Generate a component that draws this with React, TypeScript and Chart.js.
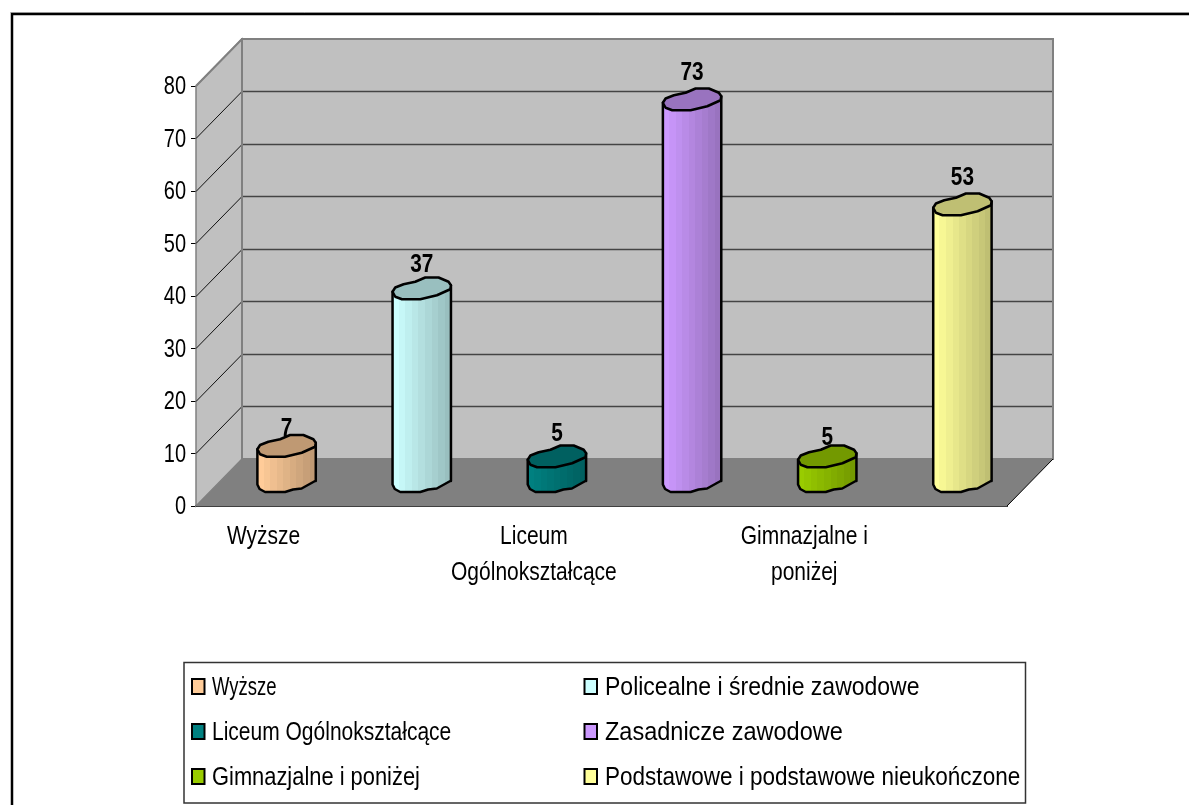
import React, { useEffect, useRef } from "react";
import { Chart, registerables } from "chart.js";

Chart.register(...registerables);

const categories = [
  "Wyższe",
  "Policealne i średnie zawodowe",
  "Liceum Ogólnokształcące",
  "Zasadnicze zawodowe",
  "Gimnazjalne i poniżej",
  "Podstawowe i podstawowe nieukończone",
];
const values = [7, 37, 5, 73, 5, 53];
const xTickLines: (string | string[])[] = [
  "Wyższe",
  "",
  ["Liceum", "Ogólnokształcące"],
  "",
  ["Gimnazjalne i", "poniżej"],
  "",
];
const bodyLight = ["#FFCC99", "#CCFFFF", "#008080", "#CC99FF", "#99CC00", "#FFFF99"];
const bodyDark = ["#BF9973", "#99BFBF", "#006060", "#9973BF", "#739900", "#BFBF73"];
const labelLift = [10, 16, 15, 19, 11, 19];
const legendSqueeze = [0.74, 0.92, 0.84, 0.94, 0.875, 0.9];

const FONT = '"Liberation Sans", Arial, sans-serif';
const DX = 46;
const DY = 47;

const capOutline: [number, number][] = [
  [-29.2, 3.5], [-26.5, -0.75], [-18.2, -4], [-6.5, -6.5], [3.5, -10.75], [16.8, -10.75],
  [26.8, -6.5], [29.2, -3], [28.5, 1], [15.2, 7], [-1.5, 11], [-19.8, 11], [-26.5, 8.5],
];
const baseArc: [number, number][] = [
  [29.2, -1], [28.5, -1], [15, 6.5], [6.5, 7.5], [-1.5, 10], [-21.5, 10], [-27, 7], [-29.2, 2.5],
];

function squeezed(ctx: any, text: string, x: number, y: number, sx: number, align: string) {
  ctx.save();
  ctx.translate(x, y);
  ctx.scale(sx, 1);
  ctx.textAlign = align;
  ctx.textBaseline = "alphabetic";
  ctx.fillText(text, 0, 0);
  ctx.restore();
}

const scene = {
  id: "scene",
  beforeDatasetsDraw(chart: any) {
    const { ctx, chartArea: a, scales } = chart;
    const y = scales.y;
    ctx.save();
    // frame
    ctx.strokeStyle = "#c8c8c8";
    ctx.lineWidth = 1;
    ctx.beginPath();
    ctx.moveTo(10, 12.5);
    ctx.lineTo(1189, 12.5);
    ctx.stroke();
    ctx.strokeStyle = "#000";
    ctx.lineWidth = 2.5;
    ctx.beginPath();
    ctx.moveTo(1189, 14);
    ctx.lineTo(12, 14);
    ctx.lineTo(12, 805);
    ctx.stroke();
    // side wall
    ctx.fillStyle = "#C0C0C0";
    ctx.beginPath();
    ctx.moveTo(a.left, a.top);
    ctx.lineTo(a.left + DX, a.top - DY);
    ctx.lineTo(a.left + DX, a.bottom - DY);
    ctx.lineTo(a.left, a.bottom);
    ctx.closePath();
    ctx.fill();
    ctx.strokeStyle = "#808080";
    ctx.lineWidth = 1.5;
    ctx.stroke();
    // back wall
    ctx.fillRect(a.left + DX, a.top - DY, a.right - a.left, a.bottom - a.top);
    // floor
    ctx.fillStyle = "#808080";
    ctx.beginPath();
    ctx.moveTo(a.left, a.bottom);
    ctx.lineTo(a.left + DX, a.bottom - DY);
    ctx.lineTo(a.right + DX, a.bottom - DY);
    ctx.lineTo(a.right, a.bottom);
    ctx.closePath();
    ctx.fill();
    // grid
    for (let v = 10; v < 80; v += 10) {
      const py = Math.floor(y.getPixelForValue(v)) + 0.5;
      ctx.strokeStyle = "#111";
      ctx.lineWidth = 1;
      ctx.beginPath();
      ctx.moveTo(a.left, py);
      ctx.lineTo(a.left + DX, py - DY);
      ctx.stroke();
      ctx.strokeStyle = "#444";
      ctx.lineWidth = 1.5;
      ctx.beginPath();
      ctx.moveTo(a.left + DX, py - DY);
      ctx.lineTo(a.right + DX, py - DY);
      ctx.stroke();
    }
    // wall edges
    ctx.strokeStyle = "#808080";
    ctx.lineWidth = 2;
    ctx.strokeRect(a.left + DX, a.top - DY, a.right - a.left, a.bottom - a.top);
    ctx.beginPath();
    ctx.moveTo(a.left, a.top);
    ctx.lineTo(a.left + DX, a.top - DY);
    ctx.stroke();
    ctx.strokeStyle = "#000";
    ctx.lineWidth = 1;
    ctx.beginPath();
    ctx.moveTo(a.right, a.bottom);
    ctx.lineTo(a.right + DX, a.bottom - DY);
    ctx.stroke();
    ctx.restore();
  },
  afterDatasetsDraw(chart: any) {
    const { ctx } = chart;
    const meta = chart.getDatasetMeta(0);
    meta.data.forEach((el: any, i: number) => {
      const cx = el.x + DX / 2;
      const top = el.y - DY / 2;
      const base = el.base - DY / 2;
      const hw = el.width / 2;
      ctx.save();
      ctx.lineJoin = "round";
      const g = ctx.createLinearGradient(cx - hw, 0, cx + hw, 0);
      const bands = 9;
      const mix = (a: string, b: string, t: number) => {
        const p = (s: string, k: number) => parseInt(s.slice(k, k + 2), 16);
        const c = [1, 3, 5].map((k) => Math.round(p(a, k) + (p(b, k) - p(a, k)) * t));
        return `rgb(${c[0]},${c[1]},${c[2]})`;
      };
      for (let b = 0; b < bands; b++) {
        const col = mix(bodyLight[i], bodyDark[i], b / (bands - 1));
        g.addColorStop(b / bands, col);
        g.addColorStop((b + 1) / bands, col);
      }
      ctx.fillStyle = g;
      ctx.strokeStyle = "#000";
      ctx.lineWidth = 2.5;
      ctx.beginPath();
      ctx.moveTo(cx - 29.2, top + 3.5);
      ctx.lineTo(cx + 29.2, top - 3);
      baseArc.forEach(([px, py]) => ctx.lineTo(cx + px, base + py));
      ctx.closePath();
      ctx.fill();
      ctx.stroke();
      ctx.fillStyle = bodyDark[i];
      ctx.beginPath();
      capOutline.forEach(([px, py], k) => {
        if (k === 0) ctx.moveTo(cx + px, top + py);
        else ctx.lineTo(cx + px, top + py);
      });
      ctx.closePath();
      ctx.fill();
      ctx.stroke();
      ctx.fillStyle = "#000";
      ctx.font = `bold 26px ${FONT}`;
      squeezed(ctx, String(values[i]), cx, top - labelLift[i], 0.8, "center");
      ctx.restore();
    });
  },
  afterDraw(chart: any) {
    const { ctx, scales } = chart;
    ctx.save();
    ctx.fillStyle = "#000";
    ctx.font = `25px ${FONT}`;
    // y axis labels, from the scale's own ticks
    scales.y.ticks.forEach((t: any) => {
      squeezed(ctx, String(t.label), 186, scales.y.getPixelForValue(t.value) + 8, 0.8, "right");
    });
    // x axis labels, from the scale's own ticks
    scales.x.ticks.forEach((t: any, i: number) => {
      const lines = Array.isArray(t.label) ? t.label : [t.label];
      lines.forEach((ln: string, k: number) => {
        if (ln) squeezed(ctx, ln, scales.x.getPixelForTick(i), 544 + k * 36, 0.84, "center");
      });
    });
    // legend
    ctx.fillStyle = "#fff";
    ctx.fillRect(184, 662.5, 841.5, 140.5);
    ctx.strokeStyle = "#333";
    ctx.lineWidth = 1.5;
    ctx.strokeRect(184, 662.5, 841.5, 140.5);
    categories.forEach((c, i) => {
      const col = i % 2;
      const row = Math.floor(i / 2);
      const sx = col ? 584.5 : 192;
      const base = 695 + row * 45;
      ctx.fillStyle = bodyLight[i];
      ctx.fillRect(sx, base - 16, 12.5, 15);
      ctx.strokeStyle = "#000";
      ctx.lineWidth = 2;
      ctx.strokeRect(sx, base - 16, 12.5, 15);
      ctx.fillStyle = "#000";
      squeezed(ctx, c, col ? 605 : 212, base, legendSqueeze[i], "left");
    });
    ctx.restore();
  },
};

export default function App() {
  const ref = useRef<HTMLCanvasElement>(null);
  useEffect(() => {
    document.body.style.margin = "0";
    const chart = new Chart(ref.current!, {
      type: "bar",
      data: {
        labels: categories,
        datasets: [
          {
            data: values,
            backgroundColor: "rgba(0,0,0,0)",
            barPercentage: 0.436,
            categoryPercentage: 1,
          },
        ],
      },
      options: {
        responsive: false,
        animation: false,
        layout: { padding: { top: 86, right: 182, left: 0, bottom: 0 } },
        plugins: { legend: { display: false }, tooltip: { enabled: false } },
        scales: {
          x: {
            grid: { display: false },
            border: { display: true, color: "#404040", width: 2 },
            afterFit: (s: any) => { s.height = 299; },
            ticks: {
              display: false,
              autoSkip: false,
              maxRotation: 0,
              callback: (_: any, i: number) => xTickLines[i],
            },
          },
          y: {
            min: 0,
            max: 80,
            grid: { drawOnChartArea: false, color: "#000", tickLength: 5 },
            border: { color: "#000", width: 1 },
            afterFit: (s: any) => { s.width = 196; },
            ticks: { display: false, stepSize: 10 },
          },
        },
      },
      plugins: [scene],
    } as any);
    return () => chart.destroy();
  }, []);
  return <canvas ref={ref} width={1189} height={805} style={{ display: "block" }} />;
}
